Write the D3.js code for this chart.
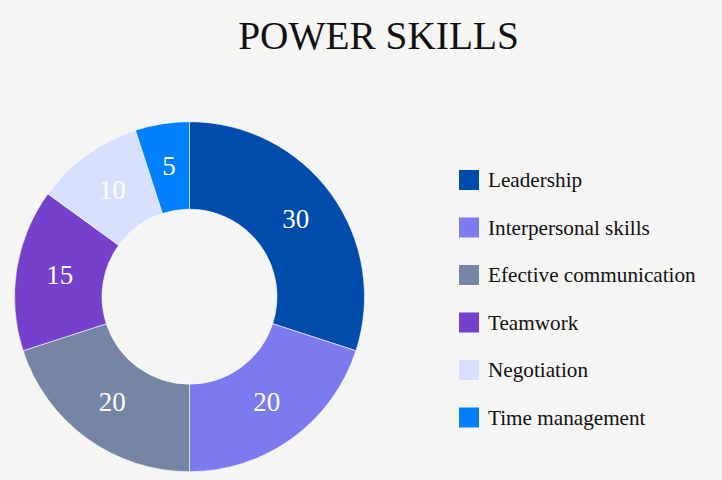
<!DOCTYPE html>
<html>
<head>
<meta charset="utf-8">
<script src="https://cdn.jsdelivr.net/npm/d3@7"></script>
<style>
  html, body { margin: 0; padding: 0; background: #f5f5f3; }
  svg { display: block; }
</style>
</head>
<body>
<svg id="chart" width="722" height="480"></svg>
<script>
const categories = ["Leadership", "Interpersonal skills", "Efective communication", "Teamwork", "Negotiation", "Time management"];
const values = [30, 20, 20, 15, 10, 5];
const colors = ["#004cad", "#7b7aee", "#7585a5", "#7440cc", "#d8e0ff", "#0080ff"];
const title = "POWER SKILLS";

const FONT = "'Liberation Serif', serif";
const svg = d3.select("#chart");
svg.append("rect").attr("width", 722).attr("height", 480).attr("fill", "#f5f5f3");

svg.append("text")
  .attr("x", 378.5).attr("y", 49)
  .attr("text-anchor", "middle")
  .attr("font-family", FONT).attr("font-size", 39.3)
  .attr("fill", "#111")
  .text(title);

const cx = 189.5, cy = 296.7, R = 175, r = 87.5;
const color = d3.scaleOrdinal().domain(categories).range(colors);
const pie = d3.pie().sort(null).value(d => d.value);
const arc = d3.arc().innerRadius(r).outerRadius(R);
const data = categories.map((c, i) => ({ name: c, value: values[i] }));

const g = svg.append("g").attr("transform", `translate(${cx},${cy})`);
const arcs = pie(data);
g.selectAll("path").data(arcs).join("path")
  .attr("d", arc)
  .attr("fill", d => color(d.data.name))
  .attr("stroke", "#ffffff").attr("stroke-width", 0.6);

g.selectAll("text").data(arcs).join("text")
  .attr("transform", d => `translate(${arc.centroid(d)})`)
  .attr("text-anchor", "middle").attr("dy", "0.3em")
  .attr("font-family", FONT).attr("font-size", 27)
  .attr("fill", "#ffffff")
  .text(d => d.data.value);

const legendY = d3.scalePoint().domain(categories).range([179.5, 417]);
const lg = svg.append("g");
const items = lg.selectAll("g").data(categories).join("g")
  .attr("transform", d => `translate(459,${legendY(d)})`);
items.append("rect").attr("x", 0).attr("y", -9.5).attr("width", 20).attr("height", 20)
  .attr("fill", d => color(d));
items.append("text").attr("x", 29).attr("y", 7.5)
  .attr("font-family", FONT).attr("font-size", 21.2).attr("fill", "#111")
  .text(d => d);
</script>
</body>
</html>
